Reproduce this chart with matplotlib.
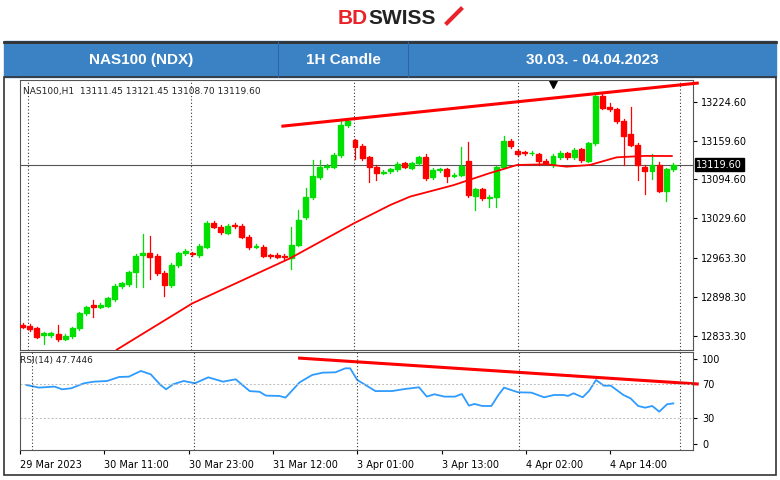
import matplotlib.pyplot as plt
from matplotlib.patches import Rectangle

# OHLC (93 candles)
opens = [12851.3, 12849.6, 12845.7, 12834.6, 12834.6, 12836.2, 12828.4, 12832.9, 12845.7, 12870.8,
         12884.7, 12881.9, 12883.6, 12894.7, 12916.5, 12919.3, 12939.3, 12967.7, 12972.2, 12966.6,
         12938.8, 12918.2, 12951.6, 12971.1, 12971.1, 12968.3, 12982.2, 13022.4, 13015.7, 13005.6,
         13018.5, 13017.3, 12999.0, 12982.2, 12982.2, 12967.2, 12968.3, 12967.2, 12962.7, 12985.0,
         13031.3, 13064.7, 13099.3, 13114.9, 13116.0, 13135.5, 13185.6, 13160.6, 13150.5, 13131.6,
         13116.0, 13106.0, 13108.7, 13111.5, 13121.6, 13114.3, 13121.6, 13131.6, 13098.1, 13110.4,
         13111.5, 13101.0, 13102.1, 13126.0, 13066.9, 13078.1, 13064.2, 13065.8, 13116.0, 13159.5,
         13142.2, 13140.0, 13138.3, 13136.6, 13126.0, 13118.8, 13131.6, 13138.3, 13131.6, 13145.0,
         13126.0, 13155.0, 13234.1, 13215.2, 13211.8, 13192.3, 13170.0, 13152.2, 13116.0, 13108.7,
         13118.8, 13075.9, 13111.5]
closes = [12848.5, 12844.0, 12831.8, 12837.3, 12837.3, 12827.3, 12832.9, 12845.7, 12870.8, 12880.8,
          12880.8, 12884.7, 12895.8, 12916.5, 12920.9, 12939.3, 12967.2, 12972.2, 12965.5, 12937.7,
          12918.2, 12951.6, 12971.1, 12975.0, 12970.0, 12983.9, 13022.4, 13015.7, 13006.2, 13017.3,
          13017.3, 12999.0, 12981.1, 12983.4, 12967.2, 12966.6, 12965.5, 12964.4, 12985.0, 13026.8,
          13064.7, 13101.0, 13114.9, 13117.7, 13135.5, 13185.6, 13192.9, 13149.4, 13129.9, 13116.0,
          13106.0, 13107.6, 13111.5, 13120.4, 13116.0, 13121.6, 13131.6, 13096.5, 13110.4, 13111.5,
          13100.4, 13102.1, 13117.1, 13068.6, 13078.1, 13063.0, 13065.8, 13114.9, 13159.5, 13150.5,
          13136.6, 13138.3, 13139.4, 13126.0, 13122.7, 13133.8, 13139.4, 13131.6, 13143.9, 13127.1,
          13155.0, 13234.1, 13214.6, 13211.8, 13192.3, 13167.3, 13152.2, 13118.8, 13108.7, 13118.8,
          13075.9, 13111.5, 13119.6]
# wicks that stick out noticeably (index: (high, low)); others get a short wick
wicks = {3: (12840, 12819.5), 5: (12851.3, 12825), 10: (12893, 12865), 16: (12970, 12914),
         17: (13004, 12915), 18: (13000, 12928), 20: (12941, 12899), 21: (12955, 12915),
         26: (13026, 12980), 38: (13015, 12945), 39: (13043, 12983), 40: (13080, 13029),
         41: (13127, 13062), 42: (13127, 13096), 45: (13196, 13133), 47: (13163, 13128),
         49: (13134, 13091), 50: (13119, 13094), 57: (13138, 13094), 60: (13114, 13091),
         62: (13149, 13100), 63: (13158, 13066), 64: (13080, 13044), 66: (13068, 13049),
         67: (13117, 13049), 68: (13167, 13113), 73: (13139, 13119), 81: (13236, 13153),
         83: (13222, 13209), 85: (13196, 13119), 86: (13215, 13150), 87: (13155, 13094),
         88: (13118, 13071), 89: (13137, 13096), 90: (13124, 13073), 91: (13114, 13058)}

ma_idx = [13.3, 24.0, 37.8, 46.8, 52.0, 54.8, 60.9, 66.0, 69.9, 74.1, 76.9, 80.2, 84.0, 88.0, 91.8]
ma_val = [12810, 12887.5, 12962.7, 13021, 13052, 13066, 13085, 13105, 13118.8, 13120,
          13116, 13118.8, 13131.6, 13134, 13133.8]

rsi_idx = [-0.1, 1.7, 3.9, 5.0, 6.3, 8.1, 9.5, 11.4, 13.1, 14.5, 16.2, 17.6, 19.0, 19.8, 20.8, 22.3,
           23.9, 25.8, 27.9, 29.7, 31.7, 33.1, 34.0, 35.9, 36.8, 38.8, 40.6, 42.1, 43.9, 45.3, 46.0,
           47.0, 49.6, 52.0, 53.8, 55.8, 56.9, 58.0, 59.4, 60.9, 61.9, 62.9, 63.7, 64.8, 66.1, 67.1,
           67.9, 69.9, 71.8, 73.6, 75.0, 76.4, 77.0, 77.8, 79.1, 80.0, 81.0, 82.1, 83.1, 84.9, 85.9,
           87.0, 88.0, 89.0, 90.0, 91.1, 92.0]
rsi_val = [69.4, 66.3, 67.5, 64.3, 65.5, 71.4, 73.3, 74.1, 78.8, 79.2, 85.9, 82.0, 69.4, 64.3, 70.2,
           74.1, 71.4, 78.4, 73.3, 76.1, 62.2, 61.4, 56.9, 56.5, 54.5, 72.5, 81.2, 83.9, 84.3, 89.0,
           89.0, 75.3, 62.2, 62.3, 64.7, 66.7, 55.7, 58.5, 55.7, 55.7, 58.8, 45.1, 47.1, 44.7, 44.7,
           57.6, 66.3, 60.8, 60.4, 54.9, 57.6, 57.6, 56.5, 59.6, 54.9, 62.4, 75.3, 68.6, 68.6, 57.6,
           53.7, 44.7, 42.7, 44.7, 38.0, 46.7, 47.74]

price_ticks = [13224.60, 13159.60, 13094.60, 13029.60, 12963.30, 12898.30, 12833.30]
time_pos = [-1, 11, 23, 35, 47, 59, 71, 83]
time_labels = ['29 Mar 2023', '30 Mar 11:00', '30 Mar 23:00', '31 Mar 12:00', '3 Apr 01:00',
               '3 Apr 13:00', '4 Apr 02:00', '4 Apr 14:00']
sep_pos = [0.75, 23.8, 46.9, 70.0, 93.0]
last_price = 13119.60
W, H = 780, 480

plt.rcParams['font.family'] = ['DejaVu Sans']
fig = plt.figure(figsize=(W / 100, H / 100), dpi=100)

def px_axes(x0, y0, x1, y1, **kw):
    return fig.add_axes([x0 / W, 1 - y1 / H, (x1 - x0) / W, (y1 - y0) / H], **kw)

# header
bg = px_axes(0, 0, W, H)
bg.set_xlim(0, W); bg.set_ylim(H, 0); bg.axis('off')
bg.add_patch(Rectangle((4, 41), 772, 36, color='#3b82c4'))
bg.plot([4, 776], [42, 42], color='#333333', lw=2)
for sx in [278, 408]:
    bg.plot([sx, sx], [42, 77], color='#2a68a3', lw=0.8)
bg.text(141, 60, 'NAS100 (NDX)', color='white', fontsize=11, weight='bold', ha='center', va='center',
        family='Liberation Sans')
bg.text(343, 60, '1H Candle', color='white', fontsize=11, weight='bold', ha='center', va='center',
        family='Liberation Sans')
bg.text(592, 60, '30.03. - 04.04.2023', color='white', fontsize=11, weight='bold', ha='center',
        va='center', family='Liberation Sans')
bg.text(368, 18, 'BD', color='#e8232a', fontsize=15, weight='bold', ha='right', va='center',
        family='Liberation Sans')
bg.text(368, 18, 'SWISS', color='#222222', fontsize=15, weight='bold', ha='left', va='center',
        family='Liberation Sans')
bg.plot([447, 461], [23, 9], color='#e8232a', lw=3)
bg.add_patch(Rectangle((4, 77), 772, 398, fill=False, ec='#333333', lw=1.2))

xlim = (-0.38, 94.8)

ax = px_axes(20, 80, 693, 350)
ax.set_xlim(*xlim)
ax.set_ylim(12809.5, 13260.9)
for i, (o, c) in enumerate(zip(opens, closes)):
    col = '#00e000' if c >= o else '#ff0000'
    hi, lo = wicks.get(i, (max(o, c) + 3, min(o, c) - 3))
    ax.plot([i, i], [lo, hi], color=col, lw=0.9, zorder=2)
    ax.add_patch(Rectangle((i - 0.35, min(o, c)), 0.7, max(abs(c - o), 1.2), color=col, zorder=3))
ax.plot(ma_idx, ma_val, color='#ff0000', lw=1.3, zorder=4)
ax.plot([36.8, 95.4], [13183.8, 13255.7], color='#ff0000', lw=2.2, zorder=4, clip_on=False)
ax.axhline(last_price, color='#555555', lw=0.8, zorder=1)
for s in sep_pos:
    ax.axvline(s, color='#333333', lw=0.8, ls=(0, (1, 2)))
ax.plot([75], [13256], marker='v', color='black', ms=7)
ax.yaxis.tick_right()
ax.set_yticks(price_ticks)
ax.set_yticklabels([f'{v:.2f}' for v in price_ticks], fontsize=7)
ax.set_xticks([])
ax.tick_params(axis='y', length=3, pad=3)
ax.text(0.005, 0.975, 'NAS100,H1  13111.45 13121.45 13108.70 13119.60', transform=ax.transAxes,
        fontsize=6.5, va='top', color='#222222')
ax.text(1.005, (last_price - 12809.5) / (13260.9 - 12809.5), f'{last_price:.2f}', transform=ax.transAxes,
        fontsize=7, va='center', ha='left', color='white',
        bbox=dict(boxstyle='square,pad=0.15', fc='black', ec='black'))
for sp in ax.spines.values():
    sp.set_color('#555555')

rx = px_axes(20, 352, 693, 450)
rx.set_xlim(*xlim)
rx.set_ylim(-7.1, 108.2)
rx.plot(rsi_idx, rsi_val, color='#2e9bff', lw=1.3)
rx.plot([38.8, 95.4], [101, 70.6], color='#ff0000', lw=2.2, clip_on=False)
for lvl in [70, 30]:
    rx.axhline(lvl, color='#bbbbbb', lw=0.7, ls=(0, (2, 2)))
for s in sep_pos:
    rx.axvline(s, color='#333333', lw=0.8, ls=(0, (1, 2)))
rx.yaxis.tick_right()
rx.set_yticks([100, 70, 30, 0])
rx.tick_params(axis='y', labelsize=7, length=3)
rx.set_xticks(time_pos)
rx.set_xticklabels(time_labels, fontsize=7, ha='left')
rx.tick_params(axis='x', length=3, pad=4)
rx.text(0.0, 0.96, 'RSI(14) 47.7446', transform=rx.transAxes, fontsize=6.5, va='top', color='#222222')
for sp in rx.spines.values():
    sp.set_color('#555555')

fig.savefig('out.png', dpi=100)
